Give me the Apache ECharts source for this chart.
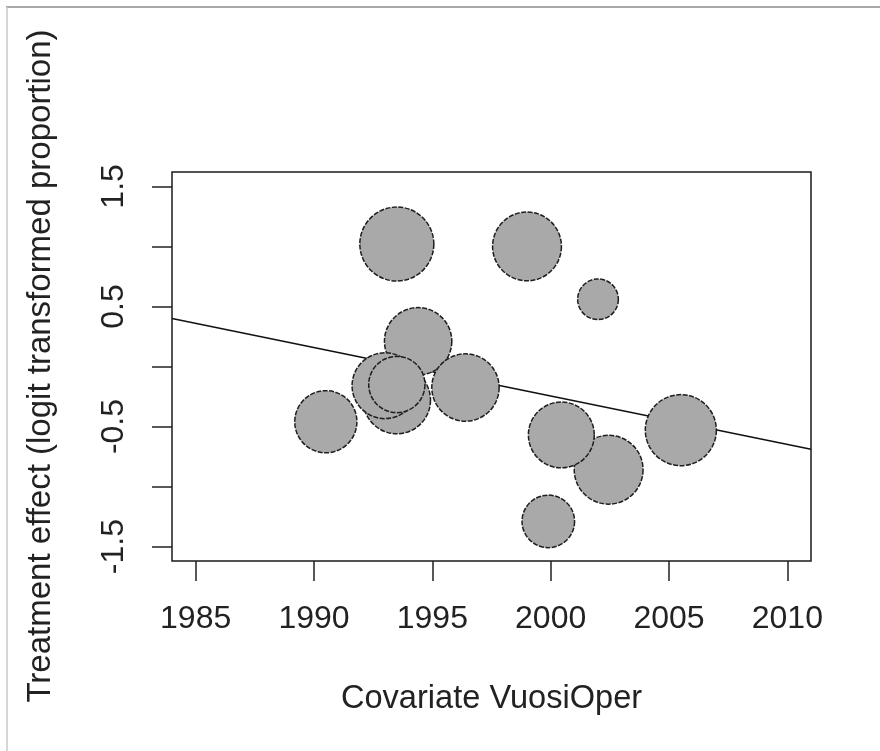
<!DOCTYPE html>
<html>
<head>
<meta charset="utf-8">
<script src="https://cdn.jsdelivr.net/npm/echarts@6/dist/echarts.min.js"></script>
<style>
  html, body { margin: 0; padding: 0; background: #fff; }
  #main { width: 880px; height: 751px; }
</style>
</head>
<body>
<div id="main"></div>
<script>
// studies
var studyYear = [1993.5, 1999.0, 2002.0, 1994.4, 1996.4, 2000.45, 2002.45, 2005.5, 1999.9, 1990.5, 1993.0, 1993.5, 1993.5];
var effect    = [1.02, 1.00, 0.56, 0.21, -0.175, -0.57, -0.86, -0.53, -1.29, -0.46, -0.16, -0.28, -0.15];
var weight    = [1.00, 0.93, 0.55, 0.91, 0.91, 0.89, 0.93, 0.96, 0.71, 0.84, 0.89, 0.91, 0.76];

// meta-regression line (end points at the plot edges)
var fitYear   = [1984, 2011];
var fitEffect = [0.40, -0.69];

var xTicks  = [1985, 1990, 1995, 2000, 2005, 2010];
var yTicks  = [-1.5, -1, -0.5, 0, 0.5, 1, 1.5];
var yLabels = [-1.5, -0.5, 0.5, 1.5];

var FONT = '"Liberation Sans", Arial, sans-serif';
var INK = '#222';

var chart = echarts.init(document.getElementById('main'));

// big bubbles first, small ones on top (like R does)
var pts = [];
for (var i = 0; i < studyYear.length; i++) {
  pts.push([studyYear[i], effect[i], weight[i]]);
}
pts.sort(function (a, b) { return b[2] - a[2]; });

var fitLine = [];
for (var j = 0; j < fitYear.length; j++) {
  fitLine.push([fitYear[j], fitEffect[j]]);
}

chart.setOption({
  animation: false,
  backgroundColor: '#fff',
  grid: {
    left: 172, top: 172, width: 639, height: 389,
    show: true,
    borderColor: '#1a1a1a',
    borderWidth: 1.5,
    backgroundColor: 'transparent'
  },
  xAxis: {
    type: 'value',
    min: 1984, max: 2011,
    axisLine: { show: false, onZero: false },
    splitLine: { show: false },
    axisTick: {
      show: true, length: 20, customValues: xTicks,
      lineStyle: { color: INK, width: 1.5 }
    },
    axisLabel: {
      customValues: xTicks,
      margin: 42,
      formatter: function (v) { return String(v); },
      fontFamily: FONT, fontSize: 32, color: INK
    }
  },
  yAxis: {
    type: 'value',
    min: -1.62, max: 1.62,
    axisLine: { show: false, onZero: false },
    splitLine: { show: false },
    axisTick: {
      show: true, length: 20, customValues: yTicks,
      lineStyle: { color: INK, width: 1.5 }
    },
    axisLabel: {
      customValues: yLabels,
      rotate: 90,
      margin: 42,
      fontFamily: FONT, fontSize: 32, color: INK
    }
  },
  graphic: [
    { type: 'line', shape: { x1: 6, y1: 7, x2: 880, y2: 7 }, style: { stroke: '#a8a8a8', lineWidth: 2 } },
    { type: 'line', shape: { x1: 7, y1: 7, x2: 7, y2: 751 }, style: { stroke: '#c8c8c8', lineWidth: 1.5 } },
    {
      type: 'text', x: 491.5, y: 699.5,
      style: { text: 'Covariate VuosiOper', font: '32.6px ' + FONT, fill: INK, align: 'center', verticalAlign: 'middle' }
    },
    {
      type: 'text', x: 41, y: 366, rotation: Math.PI / 2,
      style: { text: 'Treatment effect (logit transformed proportion)', font: '33px ' + FONT, fill: INK, align: 'center', verticalAlign: 'middle' }
    }
  ],
  series: [
    {
      type: 'line',
      data: fitLine,
      symbol: 'none',
      z: 1,
      lineStyle: { color: '#111', width: 1.5 }
    },
    {
      type: 'scatter',
      data: pts,
      z: 2,
      symbol: 'circle',
      symbolSize: function (val) { return val[2] * 74; },
      itemStyle: {
        color: '#a9a9a9',
        opacity: 1,
        borderColor: '#1e1e1e',
        borderWidth: 1.5,
        borderType: [5, 1.5]
      }
    }
  ]
});
</script>
</body>
</html>
